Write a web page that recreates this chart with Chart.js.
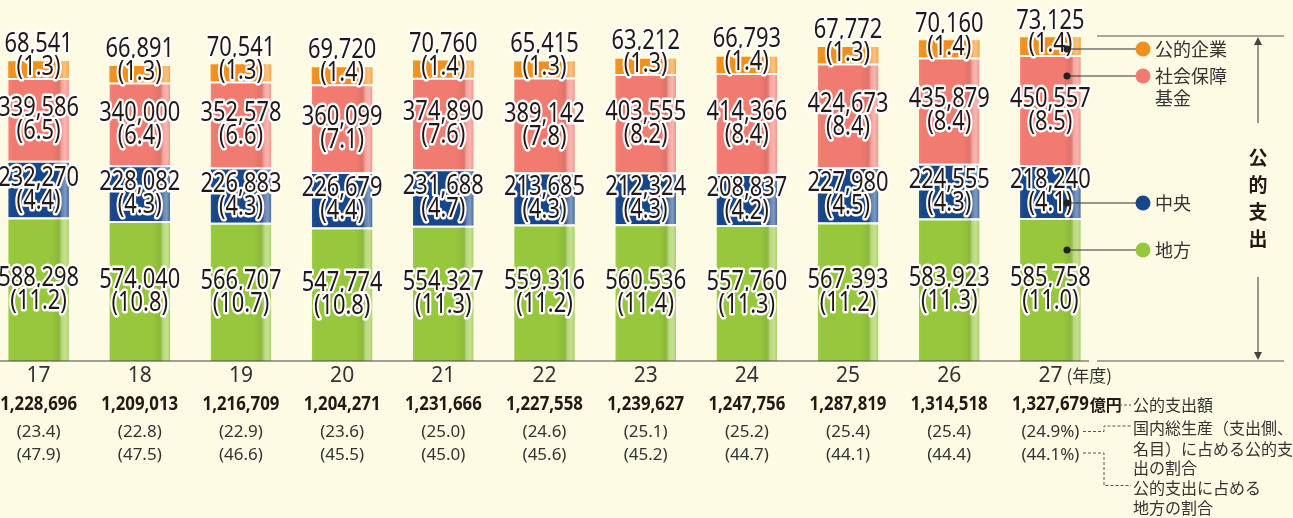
<!DOCTYPE html>
<html>
<head>
<meta charset="utf-8">
<script src="https://cdn.jsdelivr.net/npm/chart.js@4.4.1/dist/chart.umd.min.js"></script>
<style>
  html, body { margin: 0; padding: 0; background: #fdfbe3; overflow: hidden; width: 1293px; height: 518px; }
  #wrap { position: absolute; left: -12px; top: 0; }
</style>
</head>
<body>
<div id="wrap"><canvas id="c" width="1305" height="518"></canvas></div>
<script>
// 年度
const years = ['17', '18', '19', '20', '21', '22', '23', '24', '25', '26', '27'];

// 地方
const chiho = [588298, 574040, 566707, 547774, 554327, 559316, 560536, 557760, 567393, 583923, 585758];
const chihoPct = [11.2, 10.8, 10.7, 10.8, 11.3, 11.2, 11.4, 11.3, 11.2, 11.3, 11.0];
// 中央
const chuo = [232270, 228082, 226883, 226679, 231688, 213685, 212324, 208837, 227980, 224555, 218240];
const chuoPct = [4.4, 4.3, 4.3, 4.4, 4.7, 4.3, 4.3, 4.2, 4.5, 4.3, 4.1];
// 社会保障基金
const shakai = [339586, 340000, 352578, 360099, 374890, 389142, 403555, 414366, 424673, 435879, 450557];
const shakaiPct = [6.5, 6.4, 6.6, 7.1, 7.6, 7.8, 8.2, 8.4, 8.4, 8.4, 8.5];
// 公的企業
const kigyo = [68541, 66891, 70541, 69720, 70760, 65415, 63212, 66793, 67772, 70160, 73125];
const kigyoPct = [1.3, 1.3, 1.3, 1.4, 1.4, 1.3, 1.3, 1.4, 1.3, 1.4, 1.4];

// 公的支出額, GDP比, 地方の割合
const totals = [1228696, 1209013, 1216709, 1204271, 1231666, 1227558, 1239627, 1247756, 1287819, 1314518, 1327679];
const gdpShare = [23.4, 22.8, 22.9, 23.6, 25.0, 24.6, 25.1, 25.2, 25.4, 25.4, 24.9];
const localShare = [47.9, 47.5, 46.6, 45.5, 45.0, 45.6, 45.2, 44.7, 44.1, 44.4, 44.1];

const NUM = '"Noto Sans", "Noto Sans CJK JP", sans-serif';
const JP = '"Noto Sans CJK JP", "Noto Sans", sans-serif';
const INK = '#231815';
const GREEN = '#97c73d';
const BLUE = '#17478a';
const SALMON = '#f27b71';
const ORANGE = '#f2901f';
const OFF = 12; // canvas is shifted left by this much

function fmt(n) { return n.toLocaleString('en-US'); }

function text(ctx, s, x, y, font, color, align, sx) {
    ctx.save();
    ctx.font = font;
    ctx.fillStyle = color;
    ctx.textAlign = align || 'center';
    ctx.textBaseline = 'middle';
    ctx.translate(x, y);
    ctx.scale(sx || 1, 1);
    ctx.fillText(s, 0, 0);
    ctx.restore();
}

function outlined(ctx, s, x, y) {
    ctx.save();
    ctx.font = '27px ' + NUM;
    ctx.textAlign = 'center';
    ctx.textBaseline = 'middle';
    ctx.translate(x, y);
    ctx.scale(0.81, 1);
    ctx.lineJoin = 'round';
    ctx.lineWidth = 5;
    ctx.strokeStyle = '#fff';
    ctx.strokeText(s, 0, 0);
    ctx.fillStyle = INK;
    ctx.fillText(s, 0, 0);
    ctx.restore();
}

const decor = {
    id: 'decor',
    afterDatasetsDraw(chart) {
        const ctx = chart.ctx;
        // shading on the bars
        chart.data.datasets.forEach((ds, di) => {
            chart.getDatasetMeta(di).data.forEach(el => {
                const l = el.x - el.width / 2;
                const g = ctx.createLinearGradient(l, 0, l + el.width, 0);
                g.addColorStop(0, 'rgba(255,255,255,0.06)');
                g.addColorStop(0.06, 'rgba(255,255,255,0)');
                g.addColorStop(0.7, 'rgba(0,0,0,0)');
                g.addColorStop(0.8, 'rgba(0,0,0,0.05)');
                g.addColorStop(0.88, 'rgba(255,255,255,0.3)');
                g.addColorStop(0.94, 'rgba(255,255,255,0.45)');
                g.addColorStop(1, 'rgba(255,255,255,0.2)');
                ctx.save();
                ctx.fillStyle = g;
                ctx.fillRect(l, el.y, el.width, el.base - el.y);
                ctx.restore();
            });
        });
        // value labels
        chart.data.datasets.forEach((ds, di) => {
            chart.getDatasetMeta(di).data.forEach((el, i) => {
                const mid = (el.y + el.base) / 2;
                const num = fmt(ds.data[i]);
                const pct = '(' + ds.pct[i].toFixed(1) + ')';
                if (di === 3) {
                    outlined(ctx, num, el.x, mid - 25);
                    outlined(ctx, pct, el.x, mid - 2);
                } else {
                    outlined(ctx, num, el.x, mid - 11);
                    outlined(ctx, pct, el.x, mid + 12);
                }
            });
        });
    },
    afterDraw(chart) {
        const ctx = chart.ctx;
        const xs = chart.scales.x;
        const y0 = chart.scales.y.getPixelForValue(0);
        ctx.save();
        ctx.translate(OFF, 0); // page coordinates from here on

        // baseline
        ctx.strokeStyle = '#444';
        ctx.lineWidth = 1.2;
        ctx.beginPath();
        ctx.moveTo(0, y0); ctx.lineTo(1089, y0);
        ctx.stroke();

        // rows under the axis
        const last = years.length - 1;
        years.forEach((yr, i) => {
            const x = xs.getPixelForValue(i) - OFF;
            text(ctx, fmt(totals[i]), x, 404, 'bold 20px ' + NUM, INK, 'center', 0.84);
            const pc = i === last ? '%' : '';
            text(ctx, '(' + gdpShare[i].toFixed(1) + pc + ')', x, 432, '17px ' + NUM, '#333', 'center');
            text(ctx, '(' + localShare[i].toFixed(1) + pc + ')', x, 455, '17px ' + NUM, '#333', 'center');
            if (i === last) {
                ctx.save();
                ctx.font = 'bold 20px ' + NUM;
                const w = ctx.measureText(fmt(totals[i])).width * 0.84;
                ctx.restore();
                text(ctx, '億円', x + w / 2 + 1, 405, 'bold 16px ' + JP, INK, 'left');
                text(ctx, '(年度)', x + 16, 376, '17px ' + JP, '#333', 'left');
            }
        });

        // dashed leaders and notes
        ctx.strokeStyle = '#555';
        ctx.lineWidth = 1;
        ctx.setLineDash([3, 2]);
        ctx.beginPath();
        ctx.moveTo(1119, 405); ctx.lineTo(1131, 405);
        ctx.moveTo(1083, 431.5); ctx.lineTo(1104, 431.5); ctx.lineTo(1104, 426); ctx.lineTo(1131, 426);
        ctx.moveTo(1083, 453); ctx.lineTo(1104, 453); ctx.lineTo(1104, 485.5); ctx.lineTo(1131, 485.5);
        ctx.stroke();
        ctx.setLineDash([]);
        const notes = [
            ['公的支出額', 405], ['国内総生産（支出側、', 428], ['名目）に占める公的支', 449],
            ['出の割合', 468], ['公的支出に占める', 488], ['地方の割合', 508]
        ];
        notes.forEach(n => text(ctx, n[0], 1133, n[1], '16px ' + JP, '#333', 'left'));

        // legend
        const legend = [
            ['公的企業', ORANGE, 49], ['社会保障', SALMON, 76], ['中央', BLUE, 203], ['地方', GREEN, 250]
        ];
        legend.forEach(l => {
            ctx.strokeStyle = '#333';
            ctx.lineWidth = 1;
            ctx.beginPath(); ctx.moveTo(1067, l[2]); ctx.lineTo(1136, l[2]); ctx.stroke();
            ctx.fillStyle = '#222';
            ctx.beginPath(); ctx.arc(1067, l[2], 3.5, 0, Math.PI * 2); ctx.fill();
            ctx.fillStyle = l[1];
            ctx.beginPath(); ctx.arc(1143, l[2], 7.5, 0, Math.PI * 2); ctx.fill();
            text(ctx, l[0], 1155, l[2], '18px ' + JP, '#333', 'left');
        });
        text(ctx, '基金', 1155, 98, '18px ' + JP, '#333', 'left');

        // 公的支出 bracket
        ctx.strokeStyle = '#555';
        ctx.lineWidth = 1.2;
        ctx.beginPath();
        ctx.moveTo(1097, 36); ctx.lineTo(1284, 36);
        ctx.moveTo(1097, 361); ctx.lineTo(1284, 361);
        ctx.moveTo(1258, 123); ctx.lineTo(1258, 42);
        ctx.moveTo(1258, 277); ctx.lineTo(1258, 355);
        ctx.stroke();
        ctx.fillStyle = '#444';
        ctx.beginPath(); ctx.moveTo(1258, 37); ctx.lineTo(1254, 45); ctx.lineTo(1262, 45); ctx.closePath(); ctx.fill();
        ctx.beginPath(); ctx.moveTo(1258, 360); ctx.lineTo(1254, 352); ctx.lineTo(1262, 352); ctx.closePath(); ctx.fill();
        [['公', 158], ['的', 185], ['支', 212], ['出', 239]].forEach(c =>
            text(ctx, c[0], 1258, c[1], 'bold 19px ' + JP, INK, 'center'));

        ctx.restore();
    }
};

new Chart(document.getElementById('c'), {
    type: 'bar',
    data: {
        labels: years,
        datasets: [
            { label: '地方', data: chiho, pct: chihoPct, backgroundColor: GREEN },
            { label: '中央', data: chuo, pct: chuoPct, backgroundColor: BLUE },
            { label: '社会保障基金', data: shakai, pct: shakaiPct, backgroundColor: SALMON },
            { label: '公的企業', data: kigyo, pct: kigyoPct, backgroundColor: ORANGE, borderWidth: 0 }
        ]
    },
    options: {
        responsive: false,
        animation: false,
        layout: { padding: { left: 0, right: 192, top: 0, bottom: 0 } },
        datasets: {
            bar: {
                categoryPercentage: 1,
                barPercentage: 0.6,
                borderColor: '#fff',
                borderWidth: { top: 2, left: 0, right: 0, bottom: 0 },
                borderSkipped: false
            }
        },
        plugins: { legend: { display: false }, tooltip: { enabled: false } },
        scales: {
            x: {
                stacked: true,
                grid: { display: false, drawTicks: false },
                border: { display: false },
                ticks: { font: { family: NUM, size: 21 }, color: '#333', padding: 2 },
                afterFit(scale) { scale.height = 157; }
            },
            y: { stacked: true, display: false, min: 0, max: 1480000 }
        }
    },
    plugins: [decor]
});
</script>
</body>
</html>
